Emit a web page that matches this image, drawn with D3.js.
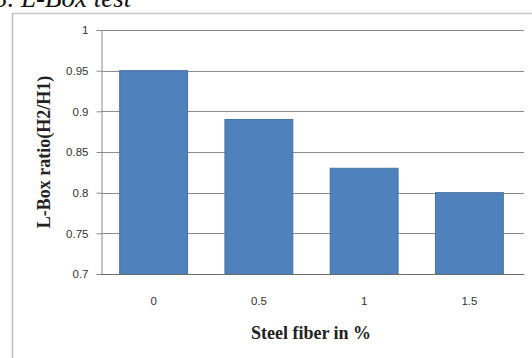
<!DOCTYPE html>
<html>
<head>
<meta charset="utf-8">
<script src="https://cdn.jsdelivr.net/npm/d3@7"></script>
<style>
  html, body { margin: 0; padding: 0; background: #fff; }
  svg { display: block; }
</style>
</head>
<body>
<script>
// L-Box ratio for different steel fibre contents
const categories = ["0", "0.5", "1", "1.5"];
const lboxRatio = [0.95, 0.89, 0.83, 0.80];
const yTicks = [0.7, 0.75, 0.8, 0.85, 0.9, 0.95, 1];
const yTickLabels = ["0.7", "0.75", "0.8", "0.85", "0.9", "0.95", "1"];

const W = 532, H = 358;
const plot = { left: 101, right: 522, top: 30, bottom: 274 };

const svg = d3.select("body").append("svg")
  .attr("width", W).attr("height", H);

// heading above the chart frame (partly outside the page)
svg.append("text")
  .attr("x", -6).attr("y", 7)
  .attr("font-family", "Liberation Serif, Times New Roman, serif")
  .attr("font-style", "italic")
  .attr("font-size", 27)
  .attr("fill", "#111")
  .text("3.  L-Box test");

// chart frame
svg.append("line").attr("x1", 12.5).attr("x2", 12.5).attr("y1", 13).attr("y2", H)
  .attr("stroke", "#bdbdbd").attr("stroke-width", 1.5);
svg.append("line").attr("x1", 12).attr("x2", W).attr("y1", 13.5).attr("y2", 13.5)
  .attr("stroke", "#c4c4c4").attr("stroke-width", 1.5);

const x = d3.scaleBand()
  .domain(categories)
  .range([plot.left, plot.right])
  .paddingInner(0.355)
  .paddingOuter(0.1775);

const y = d3.scaleLinear()
  .domain([0.7, 1])
  .range([plot.bottom, plot.top]);

// gridlines
svg.append("g")
  .selectAll("line")
  .data(yTicks.filter(v => v > 0.7))
  .join("line")
  .attr("x1", plot.left).attr("x2", plot.right + 2)
  .attr("y1", d => Math.round(y(d)) + 0.5).attr("y2", d => Math.round(y(d)) + 0.5)
  .attr("stroke", "#8c8c8c").attr("stroke-width", 1);

// y axis
const yAxis = d3.axisLeft(y)
  .tickValues(yTicks)
  .tickFormat((d, i) => yTickLabels[i])
  .tickSize(5)
  .tickPadding(8);
const gy = svg.append("g")
  .attr("transform", `translate(${plot.left + 0.5},0)`)
  .call(yAxis);
gy.select(".domain").attr("stroke", "#8c8c8c");
gy.selectAll(".tick line").attr("stroke", "#8c8c8c");
gy.selectAll(".tick text")
  .attr("font-family", "Liberation Sans, Arial, sans-serif")
  .attr("font-size", 11.5)
  .attr("fill", "#333");

// bars
svg.append("g")
  .selectAll("rect")
  .data(lboxRatio)
  .join("rect")
  .attr("x", (d, i) => x(categories[i]))
  .attr("y", d => y(d))
  .attr("width", x.bandwidth())
  .attr("height", d => y(0.7) - y(d))
  .attr("fill", "#4f81bd")
  .attr("stroke", "#47729f")
  .attr("stroke-width", 1);

// x axis
const xAxis = d3.axisBottom(x).tickSize(0).tickPadding(22);
const gx = svg.append("g")
  .attr("transform", `translate(0,${plot.bottom + 0.5})`)
  .call(xAxis);
gx.select(".domain").attr("stroke", "#6e6e6e").attr("stroke-width", 1.2)
  .attr("d", `M${plot.left},0H${plot.right + 2}`);
gx.selectAll(".tick text")
  .attr("font-family", "Liberation Sans, Arial, sans-serif")
  .attr("font-size", 11.5)
  .attr("fill", "#333");

// axis titles
svg.append("text")
  .attr("x", 311).attr("y", 339)
  .attr("text-anchor", "middle")
  .attr("font-family", "Liberation Serif, Times New Roman, serif")
  .attr("font-weight", "bold")
  .attr("font-size", 18)
  .attr("fill", "#222")
  .text("Steel fiber in %");

svg.append("text")
  .attr("transform", `translate(50,152) rotate(-90)`)
  .attr("text-anchor", "middle")
  .attr("font-family", "Liberation Serif, Times New Roman, serif")
  .attr("font-weight", "bold")
  .attr("font-size", 18)
  .attr("fill", "#222")
  .text("L-Box ratio(H2/H1)");
</script>
</body>
</html>
